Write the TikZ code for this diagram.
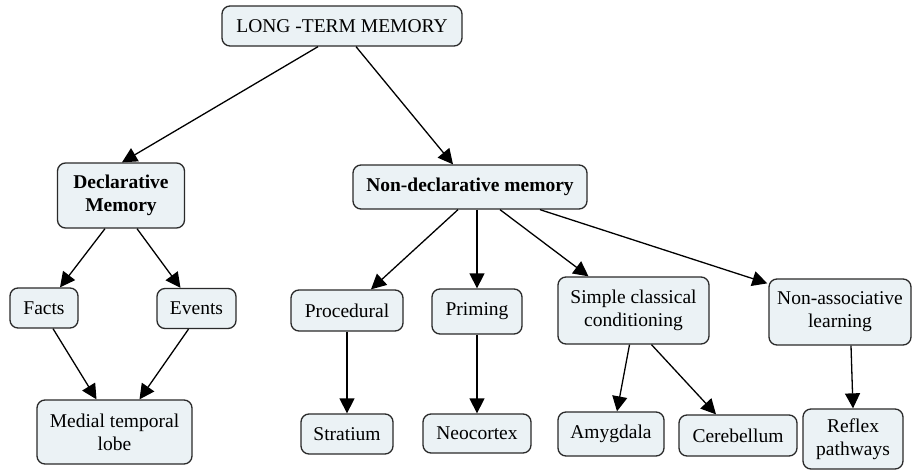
\documentclass[tikz,border=0pt]{standalone}
\usepackage{fontspec}
\setmainfont{Liberation Serif}
\usetikzlibrary{arrows.meta}
\definecolor{boxfill}{HTML}{EBF2F5}
\definecolor{boxline}{HTML}{2A2A2A}
\tikzset{
  box/.style={draw=boxline, fill=boxfill, line width=1.3pt, rounded corners=8pt,
    align=center, inner sep=0pt, font=\fontsize{19.5}{23}\selectfont},
  bbox/.style={box, font=\fontsize{19.5}{23}\selectfont\bfseries},
  conn/.style={draw=black, line width=1.3pt, -{Triangle[length=15pt,width=15pt]}}
}
\begin{document}
\begin{tikzpicture}[x=1pt,y=-1pt]
\useasboundingbox (0,0) rectangle (913,474);
\node[box, minimum width=240pt, minimum height=40pt] (ltm) at (342,26) {LONG -TERM MEMORY};
\node[bbox, minimum width=127pt, minimum height=65pt] (decl) at (121,195.5) {Declarative\\Memory};
\node[bbox, minimum width=234pt, minimum height=44pt] (nondecl) at (470,187) {Non-declarative memory};
\node[box, minimum width=68pt, minimum height=40pt] (facts) at (44,308) {Facts};
\node[box, minimum width=79pt, minimum height=40pt] (events) at (196.5,308.5) {Events};
\node[box, minimum width=155pt, minimum height=64pt] (medial) at (114.5,432) {Medial temporal\\lobe};
\node[box, minimum width=112pt, minimum height=41pt] (proc) at (347,310.5) {Procedural};
\node[box, minimum width=90pt, minimum height=45pt] (priming) at (477,311.5) {Priming};
\node[box, minimum width=151pt, minimum height=67pt] (simple) at (633.5,310.5) {Simple classical\\conditioning};
\node[box, minimum width=142pt, minimum height=66pt] (nonassoc) at (840,312) {Non-associative\\learning};
\node[box, minimum width=92pt, minimum height=40pt] (strat) at (347,434) {Stratium};
\node[box, minimum width=108pt, minimum height=39pt] (neo) at (477,433.5) {Neocortex};
\node[box, minimum width=106pt, minimum height=44pt] (amyg) at (611,434) {Amygdala};
\node[box, minimum width=118pt, minimum height=41pt] (cereb) at (738,435.5) {Cerebellum};
\node[box, minimum width=100pt, minimum height=60pt] (reflex) at (853,439) {Reflex\\pathways};

\draw[conn] ([xshift=-24pt]ltm.south) -- ([xshift=1pt]decl.north);
\draw[conn] ([xshift=14pt]ltm.south) -- ([xshift=-17pt]nondecl.north);
\draw[conn] ([xshift=-16pt]decl.south) -- ([xshift=16pt]facts.north);
\draw[conn] ([xshift=16pt]decl.south) -- ([xshift=-16pt]events.north);
\draw[conn] ([xshift=9pt]facts.south) -- ([xshift=-18pt]medial.north);
\draw[conn] ([xshift=-8pt]events.south) -- ([xshift=25pt]medial.north);
\draw[conn] ([xshift=-12pt]nondecl.south) -- ([xshift=24pt]proc.north);
\draw[conn] ([xshift=7pt]nondecl.south) -- (priming.north);
\draw[conn] ([xshift=30pt]nondecl.south) -- ([xshift=-45pt]simple.north);
\draw[conn] ([xshift=70pt]nondecl.south) -- ([xshift=-1pt,yshift=-5pt]nonassoc.north west);
\draw[conn] (proc.south) -- (strat.north);
\draw[conn] (priming.south) -- (neo.north);
\draw[conn] ([xshift=-4pt]simple.south) -- ([xshift=6pt]amyg.north);
\draw[conn] ([xshift=18pt]simple.south) -- ([xshift=-22pt]cereb.north);
\draw[conn] ([xshift=11pt]nonassoc.south) -- (reflex.north);
\end{tikzpicture}
\end{document}
